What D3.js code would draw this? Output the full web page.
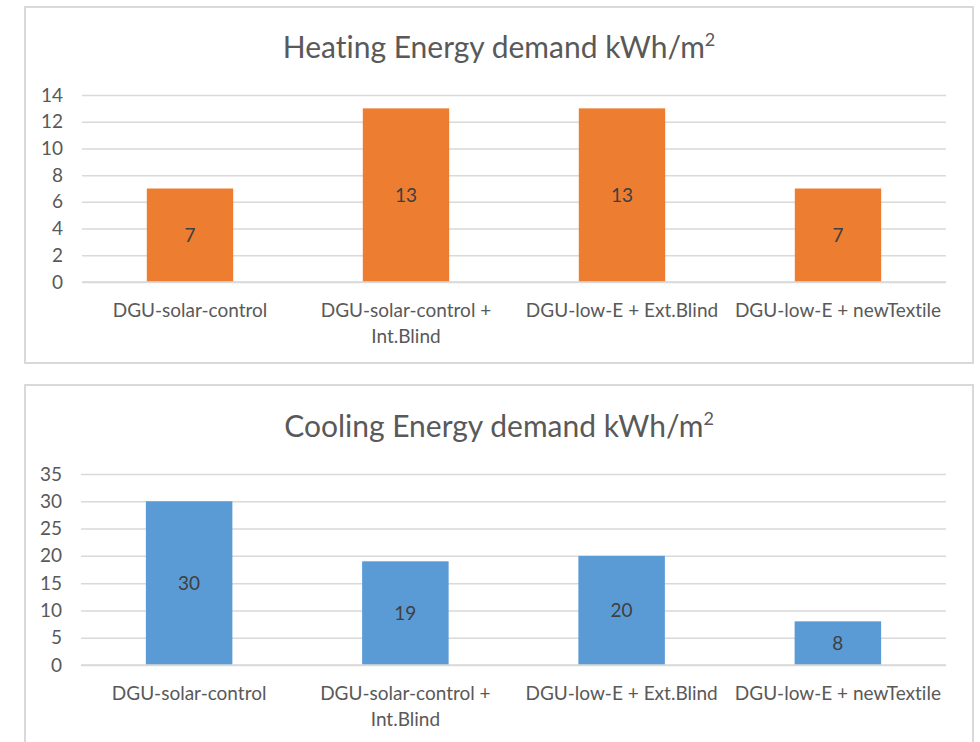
<!DOCTYPE html>
<html>
<head>
<meta charset="utf-8">
<script src="https://cdn.jsdelivr.net/npm/d3@7"></script>
<style>
  html, body { margin: 0; padding: 0; background: #ffffff; }
  svg { display: block; }
  text { font-family: Lato, "Open Sans", sans-serif; font-variant-ligatures: none; }
</style>
</head>
<body>
<svg id="chart" width="980" height="742"></svg>
<script>
// Categories (each one split into its wrapped label lines)
const categories = [
  "DGU-solar-control",
  "DGU-solar-control + Int.Blind",
  "DGU-low-E + Ext.Blind",
  "DGU-low-E + newTextile"
];
const categoryLines = [
  ["DGU-solar-control"],
  ["DGU-solar-control +", "Int.Blind"],
  ["DGU-low-E + Ext.Blind"],
  ["DGU-low-E + newTextile"]
];

// Energy demand, kWh/m²
const heatingValues = [7, 13, 13, 7];
const coolingValues = [30, 19, 20, 8];

// Value-axis ticks
const heatingTicks = [0, 2, 4, 6, 8, 10, 12, 14];
const coolingTicks = [0, 5, 10, 15, 20, 25, 30, 35];

const svg = d3.select("#chart");

const textColor = "#595959";
const gridColor = "#d9d9d9";

function drawPanel(opts) {
  const g = svg.append("g");

  // Chart frame
  g.append("rect")
    .attr("x", opts.box.x).attr("y", opts.box.y)
    .attr("width", opts.box.w).attr("height", opts.box.h)
    .attr("fill", "#ffffff")
    .attr("stroke", gridColor)
    .attr("stroke-width", 2);

  // Title with superscript unit
  const title = g.append("text")
    .attr("x", opts.box.x + opts.box.w / 2)
    .attr("y", opts.titleY)
    .attr("text-anchor", "middle")
    .attr("font-size", 30)
    .attr("fill", textColor);
  title.append("tspan").text(opts.title);
  title.append("tspan").text("2")
    .attr("font-size", 18)
    .attr("dy", -12);

  const x = d3.scaleBand()
    .domain(categories)
    .range([opts.plot.left, opts.plot.right])
    .padding(0);

  const y = d3.scaleLinear()
    .domain([opts.ticks[0], opts.ticks[opts.ticks.length - 1]])
    .range([opts.plot.bottom, opts.plot.top]);

  // Horizontal gridlines + value axis labels
  const yAxis = d3.axisLeft(y)
    .tickValues(opts.ticks)
    .tickSize(-(opts.plot.right - opts.plot.left))
    .tickPadding(19)
    .tickFormat(d3.format("d"));

  const ya = g.append("g")
    .attr("transform", `translate(${opts.plot.left},0)`)
    .call(yAxis);
  ya.select(".domain").remove();
  ya.selectAll(".tick line")
    .attr("stroke", gridColor)
    .attr("stroke-width", 1.5);
  ya.selectAll(".tick text")
    .attr("fill", textColor)
    .attr("font-size", 19)
    .attr("font-family", "Lato, 'Open Sans', sans-serif");

  // Bars
  const barFrac = 0.4;
  const bw = x.bandwidth() * barFrac;
  g.selectAll("rect.bar")
    .data(opts.values)
    .enter().append("rect")
    .attr("class", "bar")
    .attr("x", (d, i) => x(categories[i]) + (x.bandwidth() - bw) / 2)
    .attr("y", d => y(d))
    .attr("width", bw)
    .attr("height", d => y(0) - y(d))
    .attr("fill", opts.color);

  // Category axis baseline
  g.append("line")
    .attr("x1", opts.plot.left).attr("x2", opts.plot.right)
    .attr("y1", y(0)).attr("y2", y(0))
    .attr("stroke", gridColor)
    .attr("stroke-width", 1.5);

  // Value labels centred in each bar
  g.selectAll("text.val")
    .data(opts.values)
    .enter().append("text")
    .attr("class", "val")
    .attr("x", (d, i) => x(categories[i]) + x.bandwidth() / 2)
    .attr("y", d => (y(d) + y(0)) / 2)
    .attr("dy", "0.35em")
    .attr("text-anchor", "middle")
    .attr("font-size", 19)
    .attr("fill", "#404040")
    .text(d => d);

  // Category labels
  const cl = g.selectAll("text.cat")
    .data(categoryLines)
    .enter().append("text")
    .attr("class", "cat")
    .attr("x", (d, i) => x(categories[i]) + x.bandwidth() / 2)
    .attr("y", opts.catY)
    .attr("text-anchor", "middle")
    .attr("font-size", 19)
    .attr("fill", textColor);
  cl.each(function (lines) {
    const t = d3.select(this);
    const cx = t.attr("x");
    lines.forEach((ln, k) => {
      t.append("tspan")
        .attr("x", cx)
        .attr("dy", k === 0 ? 0 : 26)
        .text(ln);
    });
  });
}

drawPanel({
  box: { x: 25, y: 7, w: 948, h: 356 },
  title: "Heating Energy demand kWh/m",
  titleY: 58,
  plot: { left: 82, right: 946, top: 95, bottom: 282 },
  ticks: heatingTicks,
  values: heatingValues,
  color: "#ED7D31",
  catY: 317
});

drawPanel({
  box: { x: 25, y: 385, w: 948, h: 380 },
  title: "Cooling Energy demand kWh/m",
  titleY: 437,
  plot: { left: 81, right: 946, top: 474, bottom: 665 },
  ticks: coolingTicks,
  values: coolingValues,
  color: "#5B9BD5",
  catY: 700
});
</script>
</body>
</html>
